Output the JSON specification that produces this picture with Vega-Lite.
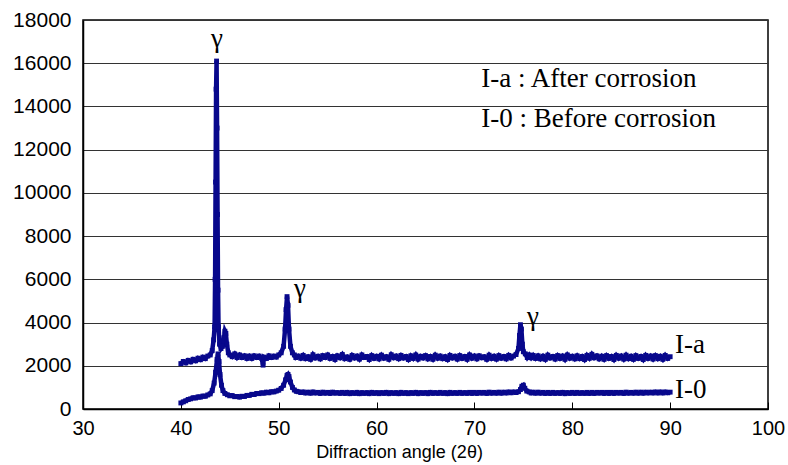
{
  "$schema": "https://vega.github.io/schema/vega-lite/v6.json",
  "width": 685,
  "height": 389,
  "autosize": {"type": "none"},
  "padding": {"left": 83, "top": 20, "right": 20, "bottom": 56},
  "background": "white",
  "config": {
    "view": {"stroke": "#000", "strokeWidth": 1.5},
    "axis": {"labelFont": "Liberation Sans", "titleFont": "Liberation Sans", "labelColor": "#000", "titleColor": "#000", "domainColor": "#000", "tickColor": "#000"}
  },
  "datasets": {
    "xrd": [
      {"s":"I-a","x":40.0,"y":2100},{"s":"I-a","x":40.25,"y":2200},{"s":"I-a","x":40.5,"y":2130},{"s":"I-a","x":40.75,"y":2250},{"s":"I-a","x":41.0,"y":2180},{"s":"I-a","x":41.25,"y":2300},{"s":"I-a","x":41.5,"y":2230},{"s":"I-a","x":41.75,"y":2350},{"s":"I-a","x":42.0,"y":2280},{"s":"I-a","x":42.25,"y":2400},{"s":"I-a","x":42.5,"y":2330},{"s":"I-a","x":42.75,"y":2450},{"s":"I-a","x":43.0,"y":2500},{"s":"I-a","x":43.2,"y":2700},{"s":"I-a","x":43.35,"y":3200},{"s":"I-a","x":43.45,"y":3800},{"s":"I-a","x":43.5,"y":6000},{"s":"I-a","x":43.55,"y":10500},{"s":"I-a","x":43.6,"y":14800},{"s":"I-a","x":43.65,"y":16100},{"s":"I-a","x":43.7,"y":13000},{"s":"I-a","x":43.75,"y":9000},{"s":"I-a","x":43.8,"y":5500},{"s":"I-a","x":43.85,"y":3800},{"s":"I-a","x":43.95,"y":3000},{"s":"I-a","x":44.1,"y":2800},{"s":"I-a","x":44.25,"y":2900},{"s":"I-a","x":44.4,"y":3300},{"s":"I-a","x":44.5,"y":3600},{"s":"I-a","x":44.6,"y":3500},{"s":"I-a","x":44.7,"y":3000},{"s":"I-a","x":44.85,"y":2600},{"s":"I-a","x":45.0,"y":2500},{"s":"I-a","x":45.25,"y":2420},{"s":"I-a","x":45.5,"y":2550},{"s":"I-a","x":45.75,"y":2380},{"s":"I-a","x":46.0,"y":2500},{"s":"I-a","x":46.25,"y":2380},{"s":"I-a","x":46.5,"y":2460},{"s":"I-a","x":46.75,"y":2340},{"s":"I-a","x":47.0,"y":2450},{"s":"I-a","x":47.25,"y":2340},{"s":"I-a","x":47.5,"y":2460},{"s":"I-a","x":47.75,"y":2380},{"s":"I-a","x":48.0,"y":2450},{"s":"I-a","x":48.25,"y":2350},{"s":"I-a","x":48.4,"y":2030},{"s":"I-a","x":48.5,"y":2400},{"s":"I-a","x":48.75,"y":2340},{"s":"I-a","x":49.0,"y":2460},{"s":"I-a","x":49.25,"y":2380},{"s":"I-a","x":49.5,"y":2450},{"s":"I-a","x":49.75,"y":2400},{"s":"I-a","x":50.0,"y":2500},{"s":"I-a","x":50.25,"y":2600},{"s":"I-a","x":50.5,"y":2900},{"s":"I-a","x":50.65,"y":3700},{"s":"I-a","x":50.75,"y":4600},{"s":"I-a","x":50.85,"y":5200},{"s":"I-a","x":50.95,"y":4800},{"s":"I-a","x":51.05,"y":3700},{"s":"I-a","x":51.2,"y":2900},{"s":"I-a","x":51.4,"y":2600},{"s":"I-a","x":51.6,"y":2500},{"s":"I-a","x":51.75,"y":2380},
      {"s":"I-a","x":52.0,"y":2450},{"s":"I-a","x":52.25,"y":2350},{"s":"I-a","x":52.5,"y":2480},{"s":"I-a","x":52.75,"y":2330},{"s":"I-a","x":53.0,"y":2420},{"s":"I-a","x":53.25,"y":2300},{"s":"I-a","x":53.5,"y":2510},{"s":"I-a","x":53.75,"y":2360},{"s":"I-a","x":54.0,"y":2440},{"s":"I-a","x":54.25,"y":2320},{"s":"I-a","x":54.5,"y":2470},{"s":"I-a","x":54.75,"y":2380},{"s":"I-a","x":55.0,"y":2500},{"s":"I-a","x":55.25,"y":2340},{"s":"I-a","x":55.5,"y":2430},{"s":"I-a","x":55.75,"y":2290},{"s":"I-a","x":56.0,"y":2460},{"s":"I-a","x":56.25,"y":2370},{"s":"I-a","x":56.5,"y":2520},{"s":"I-a","x":56.75,"y":2330},{"s":"I-a","x":57.0,"y":2410},{"s":"I-a","x":57.25,"y":2300},{"s":"I-a","x":57.5,"y":2480},{"s":"I-a","x":57.75,"y":2360},{"s":"I-a","x":58.0,"y":2450},{"s":"I-a","x":58.25,"y":2310},{"s":"I-a","x":58.5,"y":2500},{"s":"I-a","x":58.75,"y":2380},{"s":"I-a","x":59.0,"y":2430},{"s":"I-a","x":59.25,"y":2290},{"s":"I-a","x":59.5,"y":2470},{"s":"I-a","x":59.75,"y":2340},{"s":"I-a","x":60.0,"y":2440},{"s":"I-a","x":60.25,"y":2320},{"s":"I-a","x":60.5,"y":2490},{"s":"I-a","x":60.75,"y":2350},{"s":"I-a","x":61.0,"y":2420},{"s":"I-a","x":61.25,"y":2300},{"s":"I-a","x":61.5,"y":2510},{"s":"I-a","x":61.75,"y":2370},{"s":"I-a","x":62.0,"y":2450},{"s":"I-a","x":62.25,"y":2330},{"s":"I-a","x":62.5,"y":2480},{"s":"I-a","x":62.75,"y":2360},{"s":"I-a","x":63.0,"y":2430},{"s":"I-a","x":63.25,"y":2290},{"s":"I-a","x":63.5,"y":2460},{"s":"I-a","x":63.75,"y":2340},{"s":"I-a","x":64.0,"y":2500},{"s":"I-a","x":64.25,"y":2310},{"s":"I-a","x":64.5,"y":2440},{"s":"I-a","x":64.75,"y":2360},{"s":"I-a","x":65.0,"y":2470},{"s":"I-a","x":65.25,"y":2320},{"s":"I-a","x":65.5,"y":2430},{"s":"I-a","x":65.75,"y":2300},{"s":"I-a","x":66.0,"y":2490},{"s":"I-a","x":66.25,"y":2350},{"s":"I-a","x":66.5,"y":2450},{"s":"I-a","x":66.75,"y":2330},{"s":"I-a","x":67.0,"y":2420},{"s":"I-a","x":67.25,"y":2290},{"s":"I-a","x":67.5,"y":2480},{"s":"I-a","x":67.75,"y":2360},{"s":"I-a","x":68.0,"y":2440},{"s":"I-a","x":68.25,"y":2310},{"s":"I-a","x":68.5,"y":2470},{"s":"I-a","x":68.75,"y":2340},{"s":"I-a","x":69.0,"y":2430},{"s":"I-a","x":69.25,"y":2300},{"s":"I-a","x":69.5,"y":2500},{"s":"I-a","x":69.75,"y":2350},{"s":"I-a","x":70.0,"y":2450},{"s":"I-a","x":70.25,"y":2320},{"s":"I-a","x":70.5,"y":2460},{"s":"I-a","x":70.75,"y":2370},{"s":"I-a","x":71.0,"y":2420},{"s":"I-a","x":71.25,"y":2300},{"s":"I-a","x":71.5,"y":2490},{"s":"I-a","x":71.75,"y":2340},{"s":"I-a","x":72.0,"y":2440},{"s":"I-a","x":72.25,"y":2310},{"s":"I-a","x":72.5,"y":2470},{"s":"I-a","x":72.75,"y":2350},{"s":"I-a","x":73.0,"y":2430},{"s":"I-a","x":73.25,"y":2320},{"s":"I-a","x":73.5,"y":2480},{"s":"I-a","x":73.75,"y":2360},{"s":"I-a","x":74.0,"y":2450},{"s":"I-a","x":74.25,"y":2520},{"s":"I-a","x":74.5,"y":2800},{"s":"I-a","x":74.6,"y":3400},{"s":"I-a","x":74.7,"y":3900},{"s":"I-a","x":74.8,"y":3700},{"s":"I-a","x":74.9,"y":3000},{"s":"I-a","x":75.0,"y":2650},{"s":"I-a","x":75.2,"y":2550},{"s":"I-a","x":75.4,"y":2380},{"s":"I-a","x":75.6,"y":2500},{"s":"I-a","x":75.8,"y":2370},{"s":"I-a","x":76.0,"y":2480},{"s":"I-a","x":76.25,"y":2340},{"s":"I-a","x":76.5,"y":2460},{"s":"I-a","x":76.75,"y":2320},{"s":"I-a","x":77.0,"y":2440},{"s":"I-a","x":77.25,"y":2300},{"s":"I-a","x":77.5,"y":2490},{"s":"I-a","x":77.75,"y":2360},{"s":"I-a","x":78.0,"y":2430},{"s":"I-a","x":78.25,"y":2310},{"s":"I-a","x":78.5,"y":2470},{"s":"I-a","x":78.75,"y":2340},{"s":"I-a","x":79.0,"y":2450},{"s":"I-a","x":79.25,"y":2300},{"s":"I-a","x":79.5,"y":2500},{"s":"I-a","x":79.75,"y":2350},{"s":"I-a","x":80.0,"y":2440},{"s":"I-a","x":80.25,"y":2320},{"s":"I-a","x":80.5,"y":2460},{"s":"I-a","x":80.75,"y":2330},{"s":"I-a","x":81.0,"y":2430},{"s":"I-a","x":81.25,"y":2290},{"s":"I-a","x":81.5,"y":2480},{"s":"I-a","x":81.75,"y":2350},{"s":"I-a","x":82.0,"y":2530},{"s":"I-a","x":82.25,"y":2370},{"s":"I-a","x":82.5,"y":2460},{"s":"I-a","x":82.75,"y":2320},{"s":"I-a","x":83.0,"y":2440},{"s":"I-a","x":83.25,"y":2300},{"s":"I-a","x":83.5,"y":2470},{"s":"I-a","x":83.75,"y":2340},{"s":"I-a","x":84.0,"y":2430},{"s":"I-a","x":84.25,"y":2290},{"s":"I-a","x":84.5,"y":2480},{"s":"I-a","x":84.75,"y":2350},{"s":"I-a","x":85.0,"y":2450},{"s":"I-a","x":85.25,"y":2310},{"s":"I-a","x":85.5,"y":2490},{"s":"I-a","x":85.75,"y":2330},{"s":"I-a","x":86.0,"y":2440},{"s":"I-a","x":86.25,"y":2300},{"s":"I-a","x":86.5,"y":2470},{"s":"I-a","x":86.75,"y":2340},{"s":"I-a","x":87.0,"y":2430},{"s":"I-a","x":87.25,"y":2290},{"s":"I-a","x":87.5,"y":2480},{"s":"I-a","x":87.75,"y":2340},{"s":"I-a","x":88.0,"y":2450},{"s":"I-a","x":88.25,"y":2310},{"s":"I-a","x":88.5,"y":2470},{"s":"I-a","x":88.75,"y":2330},{"s":"I-a","x":89.0,"y":2440},{"s":"I-a","x":89.25,"y":2300},{"s":"I-a","x":89.5,"y":2480},{"s":"I-a","x":89.75,"y":2340},{"s":"I-a","x":90.0,"y":2420},
      {"s":"I-0","x":40.0,"y":280},{"s":"I-0","x":40.25,"y":330},{"s":"I-0","x":40.5,"y":380},{"s":"I-0","x":40.75,"y":440},{"s":"I-0","x":41.0,"y":470},{"s":"I-0","x":41.25,"y":520},{"s":"I-0","x":41.5,"y":510},{"s":"I-0","x":41.75,"y":560},{"s":"I-0","x":42.0,"y":550},{"s":"I-0","x":42.25,"y":600},{"s":"I-0","x":42.5,"y":590},{"s":"I-0","x":42.75,"y":650},{"s":"I-0","x":43.0,"y":700},{"s":"I-0","x":43.2,"y":850},{"s":"I-0","x":43.4,"y":1200},{"s":"I-0","x":43.55,"y":1700},{"s":"I-0","x":43.7,"y":2300},{"s":"I-0","x":43.8,"y":2550},{"s":"I-0","x":43.9,"y":2200},{"s":"I-0","x":44.0,"y":1600},{"s":"I-0","x":44.15,"y":1100},{"s":"I-0","x":44.3,"y":850},{"s":"I-0","x":44.5,"y":720},{"s":"I-0","x":44.75,"y":660},{"s":"I-0","x":45.0,"y":610},{"s":"I-0","x":45.25,"y":620},{"s":"I-0","x":45.5,"y":570},{"s":"I-0","x":45.75,"y":580},{"s":"I-0","x":46.0,"y":550},{"s":"I-0","x":46.25,"y":590},{"s":"I-0","x":46.5,"y":580},{"s":"I-0","x":46.75,"y":630},{"s":"I-0","x":47.0,"y":630},{"s":"I-0","x":47.25,"y":680},{"s":"I-0","x":47.5,"y":670},{"s":"I-0","x":47.75,"y":720},{"s":"I-0","x":48.0,"y":710},{"s":"I-0","x":48.25,"y":750},{"s":"I-0","x":48.5,"y":730},{"s":"I-0","x":48.75,"y":780},{"s":"I-0","x":49.0,"y":750},{"s":"I-0","x":49.25,"y":800},{"s":"I-0","x":49.5,"y":790},{"s":"I-0","x":49.75,"y":830},{"s":"I-0","x":50.0,"y":870},{"s":"I-0","x":50.25,"y":950},{"s":"I-0","x":50.5,"y":1100},{"s":"I-0","x":50.7,"y":1350},{"s":"I-0","x":50.85,"y":1550},{"s":"I-0","x":50.95,"y":1600},{"s":"I-0","x":51.05,"y":1500},{"s":"I-0","x":51.2,"y":1250},{"s":"I-0","x":51.4,"y":1000},{"s":"I-0","x":51.6,"y":880},{"s":"I-0","x":51.8,"y":820},
      {"s":"I-0","x":52.0,"y":800},{"s":"I-0","x":52.25,"y":760},{"s":"I-0","x":52.5,"y":790},{"s":"I-0","x":52.75,"y":740},{"s":"I-0","x":53.0,"y":780},{"s":"I-0","x":53.25,"y":730},{"s":"I-0","x":53.5,"y":790},{"s":"I-0","x":53.75,"y":740},{"s":"I-0","x":54.0,"y":770},{"s":"I-0","x":54.25,"y":720},{"s":"I-0","x":54.5,"y":780},{"s":"I-0","x":54.75,"y":730},{"s":"I-0","x":55.0,"y":770},{"s":"I-0","x":55.25,"y":720},{"s":"I-0","x":55.5,"y":780},{"s":"I-0","x":55.75,"y":730},{"s":"I-0","x":56.0,"y":760},{"s":"I-0","x":56.25,"y":720},{"s":"I-0","x":56.5,"y":770},{"s":"I-0","x":56.75,"y":720},{"s":"I-0","x":57.0,"y":770},{"s":"I-0","x":57.25,"y":710},{"s":"I-0","x":57.5,"y":760},{"s":"I-0","x":57.75,"y":720},{"s":"I-0","x":58.0,"y":770},{"s":"I-0","x":58.25,"y":710},{"s":"I-0","x":58.5,"y":760},{"s":"I-0","x":58.75,"y":720},{"s":"I-0","x":59.0,"y":760},{"s":"I-0","x":59.25,"y":710},{"s":"I-0","x":59.5,"y":770},{"s":"I-0","x":59.75,"y":720},{"s":"I-0","x":60.0,"y":760},{"s":"I-0","x":60.25,"y":710},{"s":"I-0","x":60.5,"y":760},{"s":"I-0","x":60.75,"y":720},{"s":"I-0","x":61.0,"y":770},{"s":"I-0","x":61.25,"y":710},{"s":"I-0","x":61.5,"y":760},{"s":"I-0","x":61.75,"y":720},{"s":"I-0","x":62.0,"y":760},{"s":"I-0","x":62.25,"y":710},{"s":"I-0","x":62.5,"y":770},{"s":"I-0","x":62.75,"y":720},{"s":"I-0","x":63.0,"y":760},{"s":"I-0","x":63.25,"y":710},{"s":"I-0","x":63.5,"y":760},{"s":"I-0","x":63.75,"y":720},{"s":"I-0","x":64.0,"y":770},{"s":"I-0","x":64.25,"y":710},{"s":"I-0","x":64.5,"y":760},{"s":"I-0","x":64.75,"y":720},{"s":"I-0","x":65.0,"y":760},{"s":"I-0","x":65.25,"y":710},{"s":"I-0","x":65.5,"y":770},{"s":"I-0","x":65.75,"y":720},{"s":"I-0","x":66.0,"y":760},{"s":"I-0","x":66.25,"y":720},{"s":"I-0","x":66.5,"y":770},{"s":"I-0","x":66.75,"y":720},{"s":"I-0","x":67.0,"y":760},{"s":"I-0","x":67.25,"y":710},{"s":"I-0","x":67.5,"y":770},{"s":"I-0","x":67.75,"y":720},{"s":"I-0","x":68.0,"y":760},{"s":"I-0","x":68.25,"y":720},{"s":"I-0","x":68.5,"y":770},{"s":"I-0","x":68.75,"y":720},{"s":"I-0","x":69.0,"y":760},{"s":"I-0","x":69.25,"y":720},{"s":"I-0","x":69.5,"y":770},{"s":"I-0","x":69.75,"y":720},{"s":"I-0","x":70.0,"y":770},{"s":"I-0","x":70.25,"y":720},{"s":"I-0","x":70.5,"y":770},{"s":"I-0","x":70.75,"y":730},{"s":"I-0","x":71.0,"y":770},{"s":"I-0","x":71.25,"y":720},{"s":"I-0","x":71.5,"y":780},{"s":"I-0","x":71.75,"y":730},{"s":"I-0","x":72.0,"y":770},{"s":"I-0","x":72.25,"y":730},{"s":"I-0","x":72.5,"y":780},{"s":"I-0","x":72.75,"y":730},{"s":"I-0","x":73.0,"y":780},{"s":"I-0","x":73.25,"y":740},{"s":"I-0","x":73.5,"y":790},{"s":"I-0","x":73.75,"y":750},{"s":"I-0","x":74.0,"y":790},{"s":"I-0","x":74.25,"y":760},{"s":"I-0","x":74.5,"y":800},{"s":"I-0","x":74.7,"y":900},{"s":"I-0","x":74.85,"y":1050},{"s":"I-0","x":75.0,"y":1100},{"s":"I-0","x":75.15,"y":960},{"s":"I-0","x":75.35,"y":830},{"s":"I-0","x":75.6,"y":790},{"s":"I-0","x":75.8,"y":740},{"s":"I-0","x":76.0,"y":780},{"s":"I-0","x":76.25,"y":730},{"s":"I-0","x":76.5,"y":780},{"s":"I-0","x":76.75,"y":730},{"s":"I-0","x":77.0,"y":770},{"s":"I-0","x":77.25,"y":720},{"s":"I-0","x":77.5,"y":770},{"s":"I-0","x":77.75,"y":720},{"s":"I-0","x":78.0,"y":770},{"s":"I-0","x":78.25,"y":720},{"s":"I-0","x":78.5,"y":760},{"s":"I-0","x":78.75,"y":720},{"s":"I-0","x":79.0,"y":770},{"s":"I-0","x":79.25,"y":710},{"s":"I-0","x":79.5,"y":760},{"s":"I-0","x":79.75,"y":720},{"s":"I-0","x":80.0,"y":770},{"s":"I-0","x":80.25,"y":720},{"s":"I-0","x":80.5,"y":770},{"s":"I-0","x":80.75,"y":720},{"s":"I-0","x":81.0,"y":760},{"s":"I-0","x":81.25,"y":720},{"s":"I-0","x":81.5,"y":770},{"s":"I-0","x":81.75,"y":720},{"s":"I-0","x":82.0,"y":770},{"s":"I-0","x":82.25,"y":720},{"s":"I-0","x":82.5,"y":770},{"s":"I-0","x":82.75,"y":730},{"s":"I-0","x":83.0,"y":770},{"s":"I-0","x":83.25,"y":720},{"s":"I-0","x":83.5,"y":770},{"s":"I-0","x":83.75,"y":720},{"s":"I-0","x":84.0,"y":770},{"s":"I-0","x":84.25,"y":720},{"s":"I-0","x":84.5,"y":770},{"s":"I-0","x":84.75,"y":730},{"s":"I-0","x":85.0,"y":770},{"s":"I-0","x":85.25,"y":720},{"s":"I-0","x":85.5,"y":780},{"s":"I-0","x":85.75,"y":730},{"s":"I-0","x":86.0,"y":770},{"s":"I-0","x":86.25,"y":730},{"s":"I-0","x":86.5,"y":780},{"s":"I-0","x":86.75,"y":730},{"s":"I-0","x":87.0,"y":780},{"s":"I-0","x":87.25,"y":730},{"s":"I-0","x":87.5,"y":780},{"s":"I-0","x":87.75,"y":740},{"s":"I-0","x":88.0,"y":780},{"s":"I-0","x":88.25,"y":740},{"s":"I-0","x":88.5,"y":790},{"s":"I-0","x":88.75,"y":740},{"s":"I-0","x":89.0,"y":790},{"s":"I-0","x":89.25,"y":740},{"s":"I-0","x":89.5,"y":790},{"s":"I-0","x":89.75,"y":750},{"s":"I-0","x":90.0,"y":780}
    ],
    "peaks": [
      {"x": 43.69, "y": 16750, "t": "γ"},
      {"x": 52.17, "y": 5180, "t": "γ"},
      {"x": 75.98, "y": 3890, "t": "γ"}
    ],
    "notes": [
      {"x": 90.5, "y": 2590, "t": "I-a"},
      {"x": 90.5, "y": 510, "t": "I-0"},
      {"x": 70.7, "y": 14900, "t": "I-a : After corrosion"},
      {"x": 70.7, "y": 13050, "t": "I-0 : Before corrosion"}
    ]
  },
  "layer": [
    {
      "data": {"name": "xrd"},
      "mark": {"type": "line", "color": "#08088c", "strokeWidth": 4.5, "clip": true},
      "encoding": {
        "x": {
          "field": "x", "type": "quantitative",
          "scale": {"domain": [30, 100], "nice": false, "zero": false},
          "axis": {
            "values": [30, 40, 50, 60, 70, 80, 90, 100],
            "grid": false, "ticks": true, "tickSize": -7, "labelPadding": 16,
            "labelFontSize": 20, "labelFlush": false,
            "domainWidth": 1.5,
            "title": "Diffraction angle (2θ)", "titleFontSize": 18, "titleFontWeight": "normal",
            "titleX": 316, "titleY": 48, "titleBaseline": "alphabetic", "titleAnchor": "middle"
          }
        },
        "y": {
          "field": "y", "type": "quantitative",
          "scale": {"domain": [0, 18000], "nice": false},
          "axis": {
            "values": [0, 2000, 4000, 6000, 8000, 10000, 12000, 14000, 16000, 18000],
            "format": "d", "grid": true, "gridColor": "#333", "gridOpacity": 1, "gridWidth": 1,
            "ticks": false, "labelPadding": 12, "labelFontSize": 21,
            "domainWidth": 1.5, "title": null, "labelFlush": false
          }
        },
        "detail": {"field": "s"}
      }
    },
    {
      "data": {"name": "xrd"},
      "mark": {"type": "point", "shape": "square", "filled": true, "size": 24, "color": "#08088c", "opacity": 1},
      "encoding": {
        "x": {"field": "x", "type": "quantitative"},
        "y": {"field": "y", "type": "quantitative"}
      }
    },
    {
      "data": {"name": "peaks"},
      "mark": {"type": "text", "font": "Liberation Serif", "fontSize": 27, "align": "center", "baseline": "alphabetic", "color": "#000"},
      "encoding": {
        "x": {"field": "x", "type": "quantitative"},
        "y": {"field": "y", "type": "quantitative"},
        "text": {"field": "t"}
      }
    },
    {
      "data": {"name": "notes"},
      "mark": {"type": "text", "font": "Liberation Serif", "fontSize": 27, "align": "left", "baseline": "alphabetic", "color": "#000"},
      "encoding": {
        "x": {"field": "x", "type": "quantitative"},
        "y": {"field": "y", "type": "quantitative"},
        "text": {"field": "t"}
      }
    }
  ]
}
